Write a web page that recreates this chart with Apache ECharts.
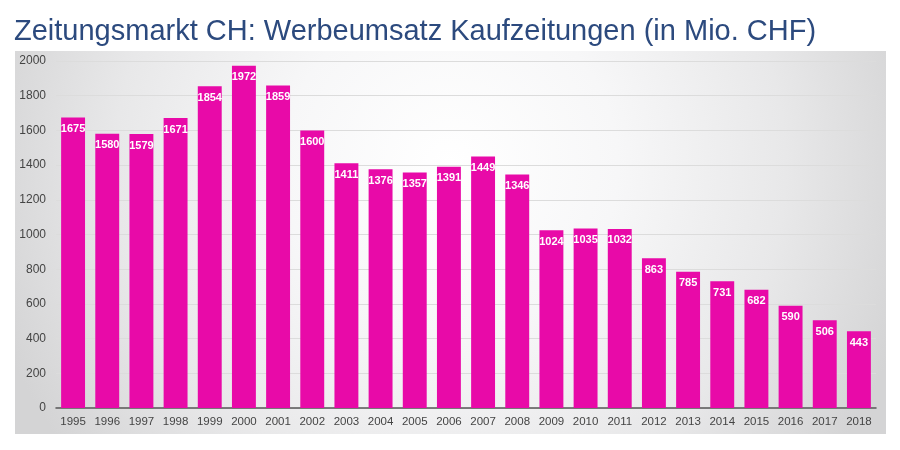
<!DOCTYPE html>
<html><head><meta charset="utf-8">
<script src="https://cdn.jsdelivr.net/npm/echarts@6/dist/echarts.min.js"></script>
<style>html,body{margin:0;padding:0;background:#fff}#c{width:900px;height:450px}</style>
</head><body><div id="c"></div>
<script>
const years = ['1995','1996','1997','1998','1999','2000','2001','2002','2003','2004','2005','2006','2007','2008','2009','2010','2011','2012','2013','2014','2015','2016','2017','2018'];
const revenue = [1675,1580,1579,1671,1854,1972,1859,1600,1411,1376,1357,1391,1449,1346,1024,1035,1032,863,785,731,682,590,506,443];
const yTicks = [0,200,400,600,800,1000,1200,1400,1600,1800,2000];
const titleText = 'Zeitungsmarkt CH: Werbeumsatz Kaufzeitungen (in Mio. CHF)';

const chart = echarts.init(document.getElementById('c'), null, {renderer:'canvas'});
chart.setOption({
  animation:false,
  title:{text:titleText,left:9,top:12,textStyle:{fontFamily:'Liberation Sans',fontWeight:'normal',fontSize:29,color:'#2c4a7e'}},
  graphic:[{type:'rect',z:-10,shape:{x:15,y:51,width:871,height:383},
    style:{fill:new echarts.graphic.RadialGradient(0.5,0.3,1.25,[{offset:0,color:'#ffffff'},{offset:0.35,color:'#f7f7f8'},{offset:0.7,color:'#e8e8e9'},{offset:1,color:'#d4d4d5'}])}}],
  grid:{left:56,right:24,top:61,bottom:42,containLabel:false},
  xAxis:{type:'category',data:years,axisLine:{lineStyle:{color:'#555',width:1.5}},axisTick:{show:false},
    axisLabel:{interval:0,color:'#444',fontSize:11.5,fontFamily:'Liberation Sans',margin:8}},
  yAxis:{type:'value',min:0,max:2000,interval:200,axisLine:{show:false},axisTick:{show:false},
    splitLine:{lineStyle:{color:'#dcdcdc'}},
    axisLabel:{color:'#444',fontSize:12,fontFamily:'Liberation Sans',margin:10,formatter:v=>yTicks.includes(v)?String(v):''}},
  series:[{type:'bar',data:revenue,barWidth:'70%',itemStyle:{color:'#e80aa8'},
    label:{show:true,position:'insideTop',distance:6,color:'#fff',fontWeight:'bold',fontSize:11,fontFamily:'Liberation Sans'}}]
});
</script></body></html>
